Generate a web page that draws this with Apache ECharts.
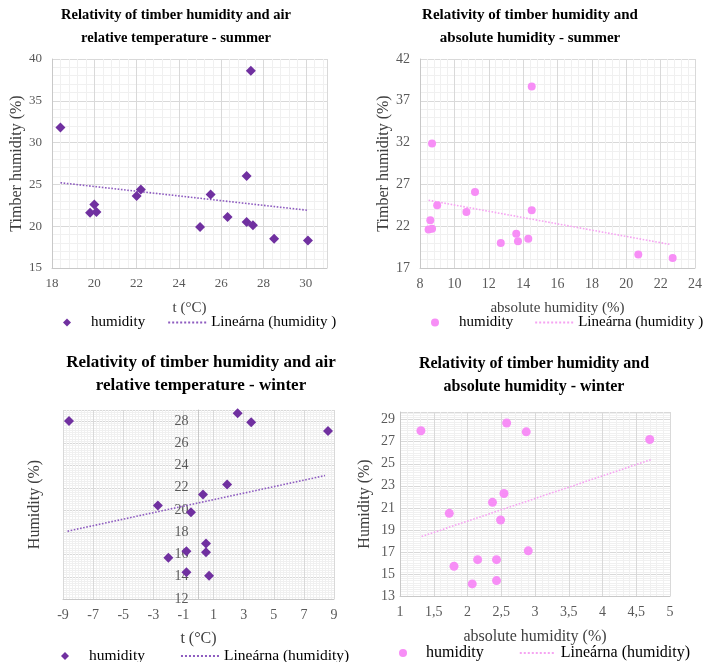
<!DOCTYPE html>
<html>
<head>
<meta charset="utf-8">
<title>Timber humidity</title>
<script src="https://cdn.jsdelivr.net/npm/echarts@6/dist/echarts.min.js"></script>
<style>
  html, body { margin: 0; padding: 0; background: #fff; }
  .wrap { position: relative; width: 703px; height: 662px; }
  .chart { position: absolute; }
  #sum_temp { left: 0; top: 0; width: 350px; height: 331px; }
  #sum_abs { left: 350px; top: 0; width: 353px; height: 331px; }
  #win_temp { left: 0; top: 331px; width: 350px; height: 331px; }
  #win_abs { left: 350px; top: 331px; width: 353px; height: 331px; }
</style>
</head>
<body>
<div class="wrap">
  <div class="chart" id="sum_temp"></div>
  <div class="chart" id="sum_abs"></div>
  <div class="chart" id="win_temp"></div>
  <div class="chart" id="win_abs"></div>
</div>
<script>
// summer - air temperature
const summerTemp = [18.4, 27.4, 19.8, 20.0, 20.1, 22.0, 22.2, 25.0, 25.5, 26.3, 27.2, 27.2, 27.5, 28.5, 30.1]
const summerTempHum = [31.8, 38.6, 21.6, 22.6, 21.7, 23.6, 24.4, 19.9, 23.8, 21.1, 26.0, 20.5, 20.1, 18.5, 18.3]
const summerTempTrendX = [18.4, 30.1]
const summerTempTrendY = [25.2, 21.9]

// summer - absolute humidity
const summerAbs = [14.5, 8.7, 11.2, 9.0, 10.7, 14.5, 8.6, 8.5, 8.7, 13.6, 12.7, 13.7, 14.3, 20.7, 22.7]
const summerAbsHum = [38.7, 31.9, 26.1, 24.5, 23.7, 23.9, 22.7, 21.6, 21.7, 21.1, 20.0, 20.2, 20.5, 18.6, 18.2]
const summerAbsTrendX = [8.5, 22.6]
const summerAbsTrendY = [25.1, 19.8]

// winter - air temperature
const winterTemp = [-8.6, 2.6, 3.5, 8.6, 1.9, 0.3, -2.7, -0.5, 0.5, -0.8, 0.5, -2.0, -0.8, 0.7]
const winterTempHum = [28.0, 28.7, 27.9, 27.1, 22.3, 21.4, 20.4, 19.8, 17.0, 16.3, 16.2, 15.7, 14.4, 14.1]
const winterTempTrendX = [-8.7, 8.4]
const winterTempTrendY = [18.1, 23.1]

// winter - absolute humidity
const winterAbs = [1.31, 2.58, 2.87, 4.70, 2.54, 2.37, 1.73, 2.49, 2.90, 2.15, 2.43, 1.80, 2.43, 2.07]
const winterAbsHum = [28.0, 28.7, 27.9, 27.2, 22.3, 21.5, 20.5, 19.9, 17.1, 16.3, 16.3, 15.7, 14.4, 14.1]
const winterAbsTrendX = [1.32, 4.73]
const winterAbsTrendY = [18.4, 25.4]

const serif = "'Liberation Serif', 'Times New Roman', serif"
const purple = '#7030a0'
const purpleTrend = '#8e5cc0'
const pink = '#f78ef6'
const pinkTrend = '#f6a4f2'
const diamondIcon = 'path://M5,0L10,5L5,10L0,5Z'

function pairs(xs, ys) {
  return xs.map((x, i) => [x, ys[i]])
}

function makeAxis(a) {
  return {
    type: 'value',
    min: a.min,
    max: a.max,
    interval: a.interval,
    name: a.name,
    nameLocation: 'middle',
    nameGap: a.nameGap,
    nameMoveOverlap: false,
    nameTextStyle: { fontFamily: serif, fontSize: a.nameSize, color: '#404040' },
    axisLine: { show: true, onZero: false, lineStyle: { color: '#c8c8c8' } },
    axisTick: { show: false },
    axisLabel: {
      fontFamily: serif,
      fontSize: a.labelSize,
      color: '#595959',
      margin: a.margin,
      showMaxLabel: a.showMax,
      formatter: a.formatter,
    },
    splitLine: { show: true, lineStyle: { color: '#d9d9d9' } },
    minorTick: { show: false, splitNumber: a.minor },
    minorSplitLine: { show: true, lineStyle: { color: '#f0f0f0' } },
  }
}

function makeOption(c) {
  const legendText = { fontFamily: serif, fontSize: c.legendSize, color: '#000' }
  return {
    animation: false,
    title: {
      text: c.title,
      left: c.titleX,
      top: c.titleY,
      padding: 0,
      textAlign: 'center',
      textStyle: {
        fontFamily: serif,
        fontWeight: 'bold',
        fontSize: c.titleSize,
        lineHeight: 23,
        color: '#000',
      },
    },
    grid: Object.assign({ outerBoundsMode: 'none' }, c.grid),
    legend: {
      left: c.legendLeft,
      top: c.legendTop,
      width: 420,
      padding: 0,
      itemWidth: c.legendItemWidth,
      itemHeight: 8,
      itemGap: c.legendGap,
      selectedMode: false,
      textStyle: legendText,
      data: [
        { name: 'humidity', icon: c.symbol === 'diamond' ? diamondIcon : 'circle', textStyle: legendText },
        { name: c.trendName, textStyle: legendText },
      ],
    },
    xAxis: makeAxis(c.x),
    yAxis: makeAxis(c.y),
    series: [
      {
        name: c.trendName,
        type: 'line',
        data: c.trend,
        symbol: 'none',
        lineStyle: { color: c.trendColor, width: 1.6, type: 'dotted' },
        // hide the marker that the legend would put in the middle of the line
        itemStyle: { color: c.trendColor, opacity: 0 },
        z: 3,
      },
      {
        name: 'humidity',
        type: 'scatter',
        data: c.points,
        symbol: c.symbol,
        symbolSize: c.symbolSize,
        itemStyle: { color: c.color, opacity: 1 },
        z: 4,
      },
    ],
  }
}

const commaFormat = (v) => String(v).replace('.', ',')

const charts = [
  {
    id: 'sum_temp',
    title: 'Relativity of timber humidity and air\nrelative temperature - summer',
    titleX: 176, titleY: 3.5, titleSize: 14.5,
    grid: { left: 52, right: 23, top: 59, bottom: 63 },
    x: { min: 18, max: 31, interval: 2, name: 't (°C)', nameGap: 33, nameSize: 15, labelSize: 13, margin: 9, minor: 5, showMax: false },
    y: { min: 15, max: 40, interval: 5, name: 'Timber humidity (%)', nameGap: 27, nameSize: 16, labelSize: 13, margin: 10, minor: 5 },
    legendLeft: 63, legendTop: 315, legendItemWidth: 38, legendGap: 22, legendSize: 15,
    trendName: 'Lineárna (humidity )',
    symbol: 'diamond', symbolSize: 10, color: purple, trendColor: purpleTrend,
    points: pairs(summerTemp, summerTempHum),
    trend: pairs(summerTempTrendX, summerTempTrendY),
  },
  {
    id: 'sum_abs',
    title: 'Relativity of timber humidity and\nabsolute humidity - summer',
    titleX: 180, titleY: 3.5, titleSize: 15,
    grid: { left: 70, right: 8, top: 59, bottom: 63 },
    x: { min: 8, max: 24, interval: 2, name: 'absolute humidity (%)', nameGap: 33, nameSize: 15, labelSize: 14, margin: 9, minor: 5 },
    y: { min: 17, max: 42, interval: 5, name: 'Timber humidity (%)', nameGap: 28, nameSize: 16, labelSize: 14, margin: 10, minor: 5 },
    legendLeft: 81, legendTop: 315, legendItemWidth: 38, legendGap: 21, legendSize: 15,
    trendName: 'Lineárna (humidity )',
    symbol: 'circle', symbolSize: 8, color: pink, trendColor: pinkTrend,
    points: pairs(summerAbs, summerAbsHum),
    trend: pairs(summerAbsTrendX, summerAbsTrendY),
  },
  {
    id: 'win_temp',
    title: 'Relativity of timber humidity and air\nrelative temperature - winter',
    titleX: 201, titleY: 20.5, titleSize: 17,
    grid: { left: 63, right: 16, top: 79, bottom: 63 },
    x: { min: -9, max: 9, interval: 2, name: 't (°C)', nameGap: 32, nameSize: 16, labelSize: 14, margin: 9, minor: 10 },
    y: { min: 12, max: 29, interval: 2, name: 'Humidity (%)', nameGap: 156, nameSize: 16, labelSize: 14, margin: 10, minor: 10, showMax: false },
    yAtZero: true,
    legendLeft: 61, legendTop: 317, legendItemWidth: 38, legendGap: 35, legendSize: 15.5,
    trendName: 'Lineárna (humidity)',
    symbol: 'diamond', symbolSize: 10, color: purple, trendColor: purpleTrend,
    points: pairs(winterTemp, winterTempHum),
    trend: pairs(winterTempTrendX, winterTempTrendY),
  },
  {
    id: 'win_abs',
    title: 'Relativity of timber humidity and\nabsolute humidity - winter',
    titleX: 184, titleY: 21.5, titleSize: 16,
    grid: { left: 50, right: 33, top: 81, bottom: 66 },
    x: { min: 1, max: 5, interval: 0.5, name: 'absolute humidity (%)', nameGap: 33, nameSize: 16, labelSize: 14, margin: 9, minor: 5, formatter: commaFormat },
    y: { min: 13, max: 29.7, interval: 2, name: 'Humidity (%)', nameGap: 27, nameSize: 16, labelSize: 14, margin: 5, minor: 10, showMax: false },
    legendLeft: 49, legendTop: 314, legendItemWidth: 36, legendGap: 35, legendSize: 16,
    trendName: 'Lineárna (humidity)',
    symbol: 'circle', symbolSize: 9, color: pink, trendColor: pinkTrend,
    points: pairs(winterAbs, winterAbsHum),
    trend: pairs(winterAbsTrendX, winterAbsTrendY),
  },
]

charts.forEach((c) => {
  const chart = echarts.init(document.getElementById(c.id))
  chart.setOption(makeOption(c))
  if (c.yAtZero) {
    // the vertical axis crosses the horizontal one at t = 0
    const zeroX = chart.convertToPixel({ xAxisIndex: 0 }, 0)
    chart.setOption({ yAxis: { offset: c.grid.left - zeroX } })
  }
})
</script>
</body>
</html>
